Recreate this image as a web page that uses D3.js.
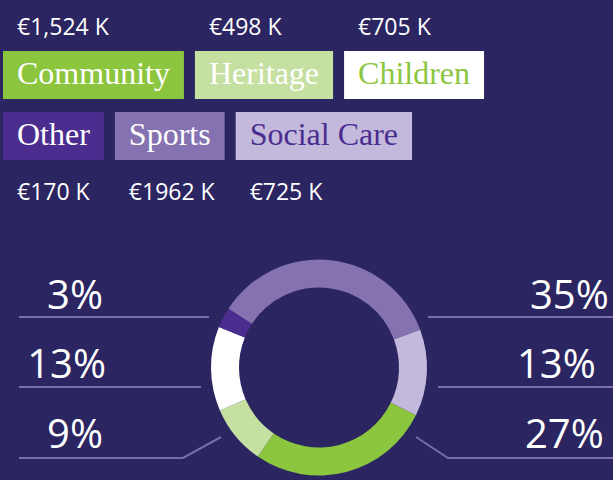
<!DOCTYPE html>
<html>
<head>
<meta charset="utf-8">
<script src="https://cdn.jsdelivr.net/npm/d3@7"></script>
<style>
  html, body { margin: 0; padding: 0; background: #2b2561; }
  svg { display: block; }
  .amt { font-family: "Open Sans", sans-serif; font-size: 23px; fill: #fff; }
  .cat { font-family: "Liberation Serif", serif; font-size: 32px; }
  .pct { font-family: "Open Sans", sans-serif; font-size: 40px; fill: #fff; }
</style>
</head>
<body>
<svg width="613" height="480"></svg>
<script>
// data
var categories = ["Community", "Heritage", "Children", "Other", "Sports", "Social Care"];
var amounts = [1524, 498, 705, 170, 1962, 725];
var amountLabels = ["€1,524 K", "€498 K", "€705 K", "€170 K", "€1962 K", "€725 K"];
var ringOrder = ["Sports", "Social Care", "Community", "Heritage", "Children", "Other"];

var fillColor = d3.scaleOrdinal()
  .domain(categories)
  .range(["#8cc63f", "#c5e0a0", "#ffffff", "#4b2d8f", "#8572b0", "#c3b9dc"]);
var textColor = d3.scaleOrdinal()
  .domain(categories)
  .range(["#ffffff", "#ffffff", "#8cc63f", "#ffffff", "#ffffff", "#4b2d8f"]);

var svg = d3.select("svg");
var width = +svg.attr("width");
var height = +svg.attr("height");

// legend boxes, two rows of three
var rows = [
  {items: categories.slice(0, 3), boxY: 51, valueY: 35},
  {items: categories.slice(3, 6), boxY: 112, valueY: 200}
];
var boxH = 48, pad = 14, gap = 11;

rows.forEach(function(row) {
  var x = 3;
  row.items.forEach(function(name) {
    var i = categories.indexOf(name);
    var g = svg.append("g");
    var rect = g.append("rect").attr("y", row.boxY).attr("height", boxH)
      .attr("fill", fillColor(name));
    var t = g.append("text").attr("class", "cat")
      .attr("x", x + pad).attr("y", row.boxY + 33)
      .attr("fill", textColor(name))
      .text(name);
    var w = t.node().getComputedTextLength();
    rect.attr("x", x).attr("width", w + pad * 2);
    g.append("text").attr("class", "amt")
      .attr("x", x + pad).attr("y", row.valueY)
      .text(amountLabels[i]);
    x += w + pad * 2 + gap;
  });
});

// donut
var cx = 319, cy = 367.5;
var total = d3.sum(amounts);
var start = -57 * Math.PI / 180;
var ringData = ringOrder.map(function(name) {
  return {name: name, value: amounts[categories.indexOf(name)]};
});
var pie = d3.pie().sort(null).value(function(d) { return d.value; })
  .startAngle(start).endAngle(start + 2 * Math.PI);
var arc = d3.arc().innerRadius(80).outerRadius(108);

svg.append("g")
  .attr("transform", "translate(" + cx + "," + cy + ")")
  .selectAll("path")
  .data(pie(ringData))
  .enter()
  .append("path")
  .attr("d", arc)
  .attr("fill", function(d) { return fillColor(d.data.name); });

// percentage labels with leader lines
var slots = [
  {name: "Other",       anchor: "end",   tx: 103, ty: 309, line: [[19, 317], [209, 317]]},
  {name: "Children",    anchor: "end",   tx: 106, ty: 378, line: [[19, 387], [201, 387]]},
  {name: "Heritage",    anchor: "end",   tx: 103, ty: 448, line: [[19, 458], [183, 458], [221, 437]]},
  {name: "Sports",      anchor: "start", tx: 530, ty: 309, line: [[428, 317], [613, 317]]},
  {name: "Social Care", anchor: "start", tx: 517, ty: 378, line: [[438, 387], [613, 387]]},
  {name: "Community",   anchor: "start", tx: 525, ty: 448, line: [[416, 437], [448, 458], [613, 458]]}
];
var pctFmt = function(v) { return Math.round(v / total * 100) + "%"; };

svg.append("g").selectAll("path")
  .data(slots)
  .enter()
  .append("path")
  .attr("d", function(d) { return d3.line()(d.line); })
  .attr("fill", "none")
  .attr("stroke", "#776ea8")
  .attr("stroke-width", 2);

svg.append("g").selectAll("text")
  .data(slots)
  .enter()
  .append("text")
  .attr("class", "pct")
  .attr("x", function(d) { return d.tx; })
  .attr("y", function(d) { return d.ty; })
  .attr("text-anchor", function(d) { return d.anchor; })
  .text(function(d) { return pctFmt(amounts[categories.indexOf(d.name)]); });
</script>
</body>
</html>
